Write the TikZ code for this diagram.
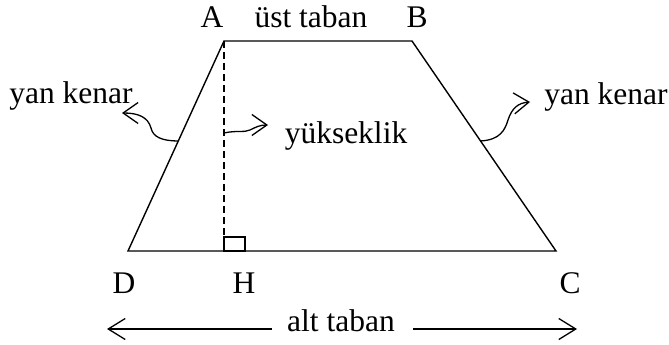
\documentclass[tikz,border=0pt]{standalone}
\usepackage{fontspec}
\setmainfont{Liberation Serif}
\usetikzlibrary{arrows.meta,calc}
\begin{document}
\begin{tikzpicture}[x=1pt,y=-1pt,
  edge/.style={line width=1.4pt},
  dashline/.style={line width=1.3pt,dash pattern=on 7pt off 4pt},
  curly/.style={line width=1.3pt,-{Straight Barb[length=15pt,width=21pt,line width=1.3pt]}},
  longarr/.style={line width=1.3pt,-{Straight Barb[length=17pt,width=21pt,line width=1.3pt]}},
  lbl/.style={font=\fontsize{31.5}{36}\selectfont,inner sep=0pt,anchor=base}]
\useasboundingbox (0,0) rectangle (669,345);
\coordinate (A) at (224,41);
\coordinate (B) at (412,41);
\coordinate (C) at (556,251);
\coordinate (D) at (128,251);
\coordinate (H) at (224,251);
\draw[edge,line join=miter] (A) -- (B) -- (C) -- (D) -- cycle;
\draw[edge] (224,251) rectangle (245,237);
\coordinate (Ht) at (224,237);
\draw[dashline] (A) -- (Ht);
% labels
\node[lbl] (la) at (212,28) {A};
\node[lbl] (lb) at (417,28) {B};
\node[lbl] (ust) at (311,28) {üst taban};
\node[lbl] (ld) at (124,293) {D};
\node[lbl] (lh) at (244,293) {H};
\node[lbl] (lc) at (570,293) {C};
\node[lbl] (ykl) at (71,103) {yan kenar};
\node[lbl] (ykr) at (606,104) {yan kenar};
\node[lbl] (yuk) at (346,143) {yükseklik};
\node[lbl] (alt) at (341,331) {alt taban};
% curly arrows
\coordinate (lk) at ($(D)!0.524!(A)$);
\coordinate (rk) at ($(B)!0.476!(C)$);
\coordinate (lt) at (122,113);
\coordinate (rt) at (530,102);
\coordinate (ht) at (224,133);
\coordinate (yt) at (268,125);
\draw[curly] (lk) .. controls (162,141) and (153,137) .. (151,128)
  .. controls (148,117) and (138,113) .. (lt);
\draw[curly] (rk) .. controls (500,140) and (505,130) .. (508,120)
  .. controls (512,108) and (518,103) .. (rt);
\draw[curly] (ht) .. controls (238,130) and (243,133) .. (250,130)
  .. controls (256,127) and (260,125) .. (yt);
% alt taban arrows
\coordinate (l1) at (272,329);
\coordinate (l2) at (107,329);
\coordinate (r1) at (413,329);
\coordinate (r2) at (577,329);
\draw[longarr] (l1) -- (l2);
\draw[longarr] (r1) -- (r2);
\end{tikzpicture}
\end{document}
